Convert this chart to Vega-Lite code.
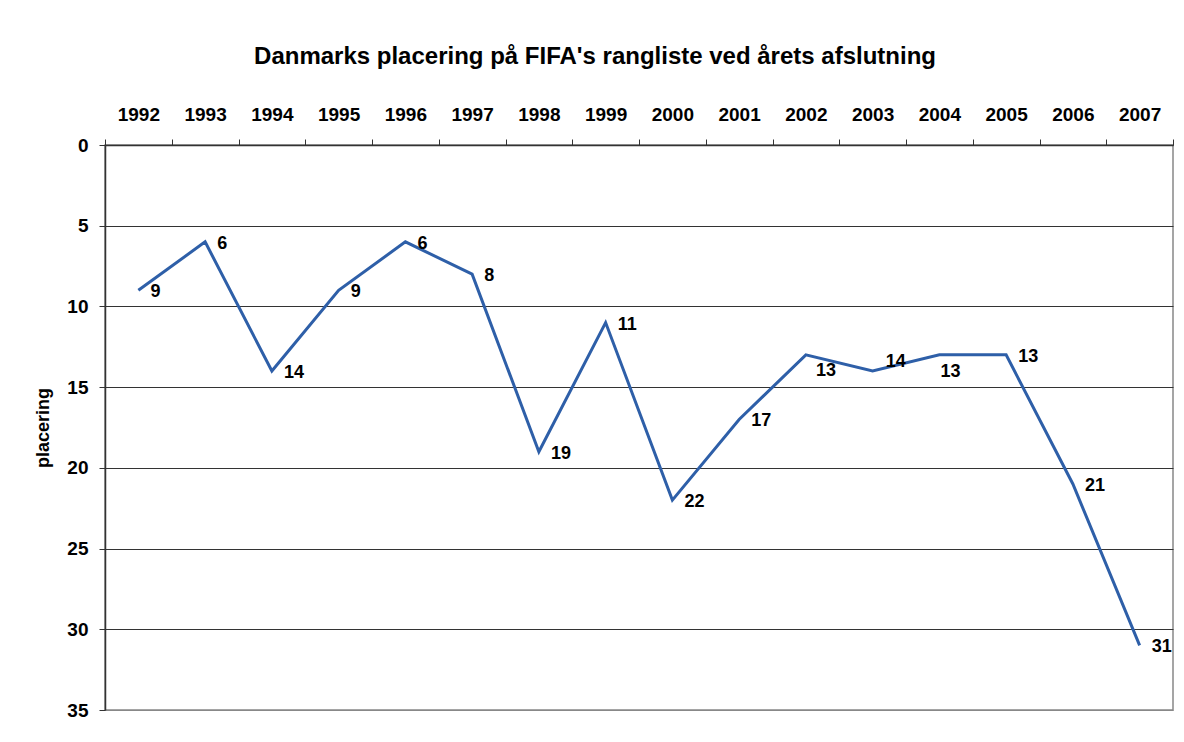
{
  "$schema": "https://vega.github.io/schema/vega-lite/v6.json",
  "width": 1068,
  "height": 565,
  "autosize": "none",
  "padding": {"left": 105, "top": 145, "right": 11, "bottom": 32},
  "background": "white",
  "config": {
    "font": "Liberation Sans",
    "view": {"stroke": "#888888", "strokeWidth": 1.5}
  },
  "title": {
    "text": "Danmarks placering på FIFA's rangliste ved årets afslutning",
    "fontSize": 24,
    "fontWeight": "bold",
    "color": "black",
    "anchor": "middle",
    "frame": "group",
    "dx": -44,
    "offset": 36
  },
  "data": {
    "values": [
      {"year": "1992", "rank": 9},
      {"year": "1993", "rank": 6},
      {"year": "1994", "rank": 14},
      {"year": "1995", "rank": 9},
      {"year": "1996", "rank": 6},
      {"year": "1997", "rank": 8},
      {"year": "1998", "rank": 19},
      {"year": "1999", "rank": 11},
      {"year": "2000", "rank": 22},
      {"year": "2001", "rank": 17},
      {"year": "2002", "rank": 13},
      {"year": "2003", "rank": 14},
      {"year": "2004", "rank": 13},
      {"year": "2005", "rank": 13},
      {"year": "2006", "rank": 21},
      {"year": "2007", "rank": 31}
    ]
  },
  "encoding": {
    "x": {
      "field": "year",
      "type": "ordinal",
      "bandPosition": 0.5,
      "scale": {"type": "band", "paddingInner": 0, "paddingOuter": 0},
      "axis": {
        "orient": "top",
        "title": null,
        "labelAngle": 0,
        "labelFontSize": 19,
        "labelFontWeight": "bold",
        "labelColor": "black",
        "labelPadding": 15,
        "tickBand": "extent",
        "tickSize": 6,
        "tickColor": "#333333",
        "domainColor": "#333333",
        "domainWidth": 1.5,
        "grid": false
      }
    },
    "y": {
      "field": "rank",
      "type": "quantitative",
      "scale": {"domain": [0, 35], "reverse": true, "nice": false},
      "axis": {
        "values": [0, 5, 10, 15, 20, 25, 30, 35],
        "title": "placering",
        "titleFontSize": 18,
        "titleFontWeight": "bold",
        "titleColor": "black",
        "titlePadding": 14,
        "labelFontSize": 19,
        "labelFontWeight": "bold",
        "labelColor": "black",
        "labelPadding": 11,
        "tickSize": 6,
        "tickColor": "#333333",
        "domainColor": "#333333",
        "domainWidth": 1.5,
        "grid": true,
        "gridColor": {"condition": {"test": "datum.value == 35", "value": "#888888"}, "value": "#333333"},
        "gridWidth": 1
      }
    }
  },
  "layer": [
    {
      "mark": {"type": "line", "color": "#2E5FA8", "strokeWidth": 3}
    },
    {
      "transform": [{"filter": {"not": {"field": "year", "oneOf": ["2002", "2003", "2004"]}}}],
      "mark": {"type": "text", "align": "left", "baseline": "middle", "dx": 12, "dy": 2, "fontSize": 18, "fontWeight": "bold", "color": "black"},
      "encoding": {"text": {"field": "rank", "type": "quantitative"}}
    },
    {
      "transform": [{"filter": {"field": "year", "equal": "2002"}}],
      "mark": {"type": "text", "align": "left", "baseline": "middle", "dx": 10, "dy": 16, "fontSize": 18, "fontWeight": "bold", "color": "black"},
      "encoding": {"text": {"field": "rank", "type": "quantitative"}}
    },
    {
      "transform": [{"filter": {"field": "year", "equal": "2003"}}],
      "mark": {"type": "text", "align": "left", "baseline": "middle", "dx": 13, "dy": -9, "fontSize": 18, "fontWeight": "bold", "color": "black"},
      "encoding": {"text": {"field": "rank", "type": "quantitative"}}
    },
    {
      "transform": [{"filter": {"field": "year", "equal": "2004"}}],
      "mark": {"type": "text", "align": "left", "baseline": "middle", "dx": 1, "dy": 17, "fontSize": 18, "fontWeight": "bold", "color": "black"},
      "encoding": {"text": {"field": "rank", "type": "quantitative"}}
    }
  ]
}
